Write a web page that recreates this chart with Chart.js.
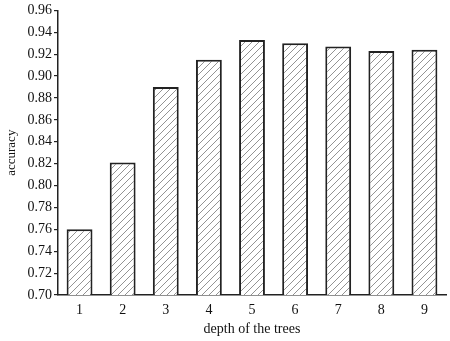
<!DOCTYPE html>
<html>
<head>
<meta charset="utf-8">
<script src="https://cdn.jsdelivr.net/npm/chart.js@4.4.1/dist/chart.umd.min.js"></script>
<style>
  html, body { margin: 0; padding: 0; background: #fff; }
  #wrap { width: 450px; height: 341px; }
</style>
</head>
<body>
<div id="wrap"><canvas id="accChart" width="450" height="341"></canvas></div>
<script>
const depths = ["1", "2", "3", "4", "5", "6", "7", "8", "9"];
const accuracy = [0.760, 0.821, 0.890, 0.915, 0.933, 0.930, 0.927, 0.923, 0.924];
const yMin = 0.70;
const yMax = 0.96;
const yStep = 0.02;

// diagonal hatch fill like the printed figure
function makeHatch() {
    const size = 7;
    const c = document.createElement("canvas");
    c.width = size;
    c.height = size;
    const g = c.getContext("2d");
    g.fillStyle = "#fff";
    g.fillRect(0, 0, size, size);
    g.strokeStyle = "#777";
    g.lineWidth = 0.8;
    g.beginPath();
    g.moveTo(0, size);
    g.lineTo(size, 0);
    g.moveTo(-1, 1);
    g.lineTo(1, -1);
    g.moveTo(size - 1, size + 1);
    g.lineTo(size + 1, size - 1);
    g.stroke();
    return g.createPattern(c, "repeat");
}

const font = "'Liberation Serif', 'Times New Roman', serif";
const ctx = document.getElementById("accChart").getContext("2d");

new Chart(ctx, {
    type: "bar",
    data: {
        labels: depths,
        datasets: [{
            data: accuracy,
            backgroundColor: makeHatch(),
            borderColor: "#222",
            borderWidth: 2,
            borderSkipped: false,
            categoryPercentage: 0.6,
            barPercentage: 1.0
        }]
    },
    options: {
        responsive: false,
        animation: false,
        layout: { padding: { top: 8, right: 4, left: 0, bottom: 0 } },
        plugins: {
            legend: { display: false },
            tooltip: { enabled: false }
        },
        scales: {
            x: {
                grid: { display: false, drawTicks: false },
                border: { display: true, color: "#222", width: 1.5 },
                ticks: { color: "#111", font: { family: font, size: 14 }, padding: 7 },
                title: {
                    display: true,
                    text: "depth of the trees",
                    color: "#111",
                    font: { family: font, size: 14 },
                    padding: { top: 2, bottom: 3 }
                },
                afterFit: function (scale) { scale.height = 46; }
            },
            y: {
                min: yMin,
                max: yMax,
                grid: {
                    display: true,
                    drawOnChartArea: false,
                    drawTicks: true,
                    tickLength: 4,
                    color: "#222",
                    lineWidth: 1.2
                },
                border: { display: true, color: "#222", width: 1.5 },
                ticks: {
                    stepSize: yStep,
                    color: "#111",
                    font: { family: font, size: 14 },
                    padding: 2,
                    callback: function (v) { return v.toFixed(2); }
                },
                title: {
                    display: true,
                    text: "accuracy",
                    color: "#111",
                    font: { family: font, size: 13 },
                    padding: { top: 4, bottom: 2 }
                },
                afterFit: function (scale) { scale.width = 58; }
            }
        }
    }
});
</script>
</body>
</html>
